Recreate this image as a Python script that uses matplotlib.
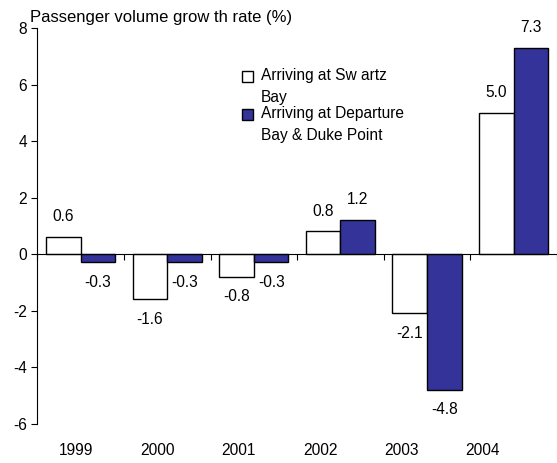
import matplotlib.pyplot as plt
from matplotlib.patches import Rectangle
from matplotlib.legend_handler import HandlerPatch
import numpy as np

years = ["1999", "2000", "2001", "2002", "2003", "2004"]
swartz = [0.6, -1.6, -0.8, 0.8, -2.1, 5.0]
departure = [-0.3, -0.3, -0.3, 1.2, -4.8, 7.3]
series_names = ["Arriving at Sw artz\nBay", "Arriving at Departure\nBay & Duke Point"]

plt.rcParams["font.family"] = ["Liberation Sans", "DejaVu Sans"]
plt.rcParams["font.size"] = 11.2
plt.rcParams["axes.unicode_minus"] = False

fig = plt.figure(figsize=(5.57, 4.63), dpi=100)
ax = fig.add_axes([0.067, 0.0853, 0.933, 0.8542])

x = np.arange(len(years))
w = 0.4
b1 = ax.bar(x - w / 2, swartz, w, color="white", edgecolor="black", linewidth=1)
b2 = ax.bar(x + w / 2, departure, w, color="#333399", edgecolor="black", linewidth=1)

# value labels above/below the bars
for bars, vals in [(b1, swartz), (b2, departure)]:
    for r, v in zip(bars, vals):
        off = 14.5 if v >= 0 else -14.5
        ax.annotate(f"{v:.1f}", (r.get_x() + r.get_width() / 2, v),
                    xytext=(0, off), textcoords="offset points",
                    ha="center", va="center")

ax.set_xlim(-0.5, 5.5)
ax.set_ylim(-6, 8)
ax.set_yticks(range(-6, 9, 2))
ax.tick_params(axis="y", direction="out", length=4, width=0.8, labelsize=11.2)

ax.spines["top"].set_visible(False)
ax.spines["right"].set_visible(False)
ax.spines["bottom"].set_position(("data", 0))
ax.spines["left"].set_linewidth(0.8)
ax.spines["bottom"].set_linewidth(0.8)

# tick marks between categories, labels at the bottom
ax.set_xticks(np.arange(-0.5, 6.0, 1.0))
ax.set_xticklabels([])
ax.tick_params(axis="x", direction="out", length=4, width=0.8)
for i, yr in enumerate(years):
    ax.text(-0.05 + 0.938 * i, -0.067, yr, transform=ax.get_xaxis_transform(),
            ha="center", va="center")

fig.text(0.054, 0.963, "Passenger volume grow th rate (%)", fontsize=12,
         ha="left", va="center")


# legend square sits next to the first line of the label, like Excel
def top_square(legend, orig_handle, xdescent, ydescent, width, height, fontsize):
    shift = 0.68 * fontsize
    return Rectangle((-xdescent, -ydescent + shift), width, height)


leg = ax.legend([b1[0], b2[0]], series_names,
                loc="upper left", bbox_to_anchor=(0.394, 0.9), frameon=False,
                borderpad=0, handlelength=0.7, handleheight=0.7,
                handletextpad=0.5, labelspacing=0.05, borderaxespad=0,
                handler_map={Rectangle: HandlerPatch(patch_func=top_square)})
for t in leg.get_texts():
    t.set_linespacing(1.6)

fig.savefig("out.png", dpi=100)
